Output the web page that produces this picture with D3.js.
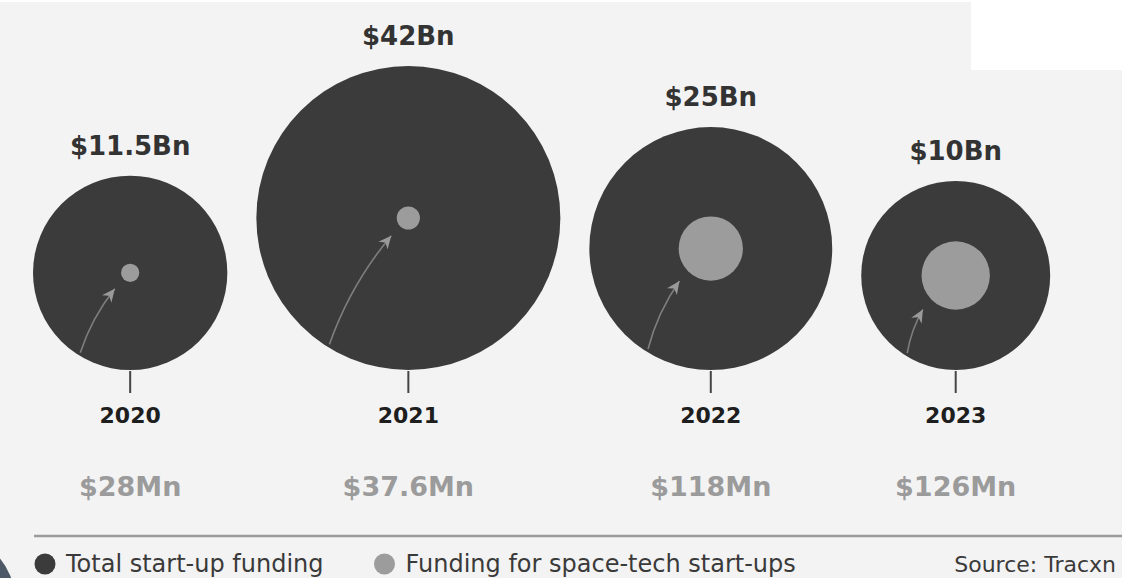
<!DOCTYPE html>
<html>
<head>
<meta charset="utf-8">
<script src="https://cdn.jsdelivr.net/npm/d3@7"></script>
<style>
  html, body { margin: 0; padding: 0; background: #f3f3f3; }
  svg { display: block; }
  text { font-family: "DejaVu Sans", "Noto Sans", sans-serif; }
</style>
</head>
<body>
<svg id="chart" width="1122" height="578"></svg>
<script>
// Yearly start-up funding (billions USD) and space-tech funding (millions USD)
const years = ["2020", "2021", "2022", "2023"];
const totalFundingBn = [11.5, 42, 25, 10];
const spaceTechFundingMn = [28, 37.6, 118, 126];
const totalLabels = ["$11.5Bn", "$42Bn", "$25Bn", "$10Bn"];
const spaceLabels = ["$28Mn", "$37.6Mn", "$118Mn", "$126Mn"];
const legendItems = ["Total start-up funding", "Funding for space-tech start-ups"];
const sourceText = "Source: Tracxn";

const W = 1122, H = 578;
const svg = d3.select("#chart");

const dark = "#3b3b3b", light = "#9c9c9c";

// background
svg.append("rect").attr("width", W).attr("height", H).attr("fill", "#f3f3f3");
svg.append("rect").attr("width", W).attr("height", 2).attr("fill", "#ffffff");
svg.append("rect").attr("x", 971).attr("y", 0).attr("width", W - 971).attr("height", 70).attr("fill", "#ffffff");

// radius scales
const rOuter = d3.scaleLinear().domain([0, 42]).range([76.5, 152]);
const rInner = d3.scaleLinear().domain([0, 130]).range([1.97, 35.2]);

const baseY = 370;      // circles sit on a common baseline
const leftEdge = 33, gap = 29;

// pack circles left to right
const data = [];
let cursor = leftEdge;
years.forEach((y, i) => {
  const R = rOuter(totalFundingBn[i]);
  const cx = cursor + R;
  cursor = cx + R + gap;
  data.push({
    year: y, R, r: rInner(spaceTechFundingMn[i]),
    cx, cy: baseY - R,
    totalLabel: totalLabels[i], spaceLabel: spaceLabels[i]
  });
});

// arrowhead
svg.append("defs").append("marker")
  .attr("id", "head")
  .attr("markerUnits", "userSpaceOnUse")
  .attr("viewBox", "-13 -7 14 14")
  .attr("refX", 0).attr("refY", 0)
  .attr("markerWidth", 14).attr("markerHeight", 14)
  .attr("orient", "auto")
  .append("path")
  .attr("d", "M0,0 L-13,-6 L-9,0 L-13,6 Z")
  .attr("fill", "#9a9a9a");

const g = svg.append("g");

const col = g.selectAll("g.col").data(data).enter().append("g").attr("class", "col");

col.append("circle")
  .attr("cx", d => d.cx).attr("cy", d => d.cy).attr("r", d => d.R)
  .attr("fill", dark);

col.append("circle")
  .attr("cx", d => d.cx).attr("cy", d => d.cy).attr("r", d => d.r)
  .attr("fill", light);

// curved pointer from the outer rim towards the inner circle
const startAng = 122 * Math.PI / 180, tipAng = 134 * Math.PI / 180;
col.append("path")
  .attr("d", d => {
    const sx = d.cx + (d.R - 3) * Math.cos(startAng);
    const sy = d.cy + (d.R - 3) * Math.sin(startAng);
    const tx = d.cx + (d.r + 13) * Math.cos(tipAng);
    const ty = d.cy + (d.r + 13) * Math.sin(tipAng);
    const dx = tx - sx, dy = ty - sy;
    const k = 0.09;
    const mx = (sx + tx) / 2 + dy * k;
    const my = (sy + ty) / 2 - dx * k;
    const p = d3.path();
    p.moveTo(sx, sy);
    p.quadraticCurveTo(mx, my, tx, ty);
    return p.toString();
  })
  .attr("fill", "none")
  .attr("stroke", "#7e7e7e")
  .attr("stroke-width", 1.6)
  .attr("marker-end", "url(#head)");

// tick below each circle
col.append("line")
  .attr("x1", d => d.cx).attr("x2", d => d.cx)
  .attr("y1", baseY + 1).attr("y2", baseY + 23)
  .attr("stroke", "#444").attr("stroke-width", 2);

col.append("text")
  .attr("x", d => d.cx).attr("y", d => d.cy - d.R - 21)
  .attr("text-anchor", "middle")
  .attr("font-size", 26).attr("font-weight", "bold")
  .attr("fill", "#333")
  .text(d => d.totalLabel);

col.append("text")
  .attr("x", d => d.cx).attr("y", baseY + 53)
  .attr("text-anchor", "middle")
  .attr("font-size", 22).attr("font-weight", "bold")
  .attr("fill", "#1e1e1e")
  .text(d => d.year);

col.append("text")
  .attr("x", d => d.cx).attr("y", baseY + 126)
  .attr("text-anchor", "middle")
  .attr("font-size", 27).attr("font-weight", "bold")
  .attr("fill", "#9b9b9b")
  .text(d => d.spaceLabel);

// separator
svg.append("line")
  .attr("x1", 34).attr("x2", W).attr("y1", 536).attr("y2", 536)
  .attr("stroke", "#9a9a9a").attr("stroke-width", 2.5);

// legend
const legend = svg.append("g");
const legendX = [45, 384.5];
legendItems.forEach((t, i) => {
  legend.append("circle")
    .attr("cx", legendX[i]).attr("cy", 564).attr("r", 10.5)
    .attr("fill", i === 0 ? dark : light);
  legend.append("text")
    .attr("x", legendX[i] + 21).attr("y", 572)
    .attr("font-size", 24).attr("fill", "#3a3a3a")
    .text(t);
});
legend.append("text")
  .attr("x", W - 6).attr("y", 572)
  .attr("text-anchor", "end")
  .attr("font-size", 22).attr("fill", "#3a3a3a")
  .text(sourceText);

// dark corner shape at lower left
svg.append("circle")
  .attr("cx", -50).attr("cy", 600).attr("r", 65)
  .attr("fill", "#4d5866");
</script>
</body>
</html>
